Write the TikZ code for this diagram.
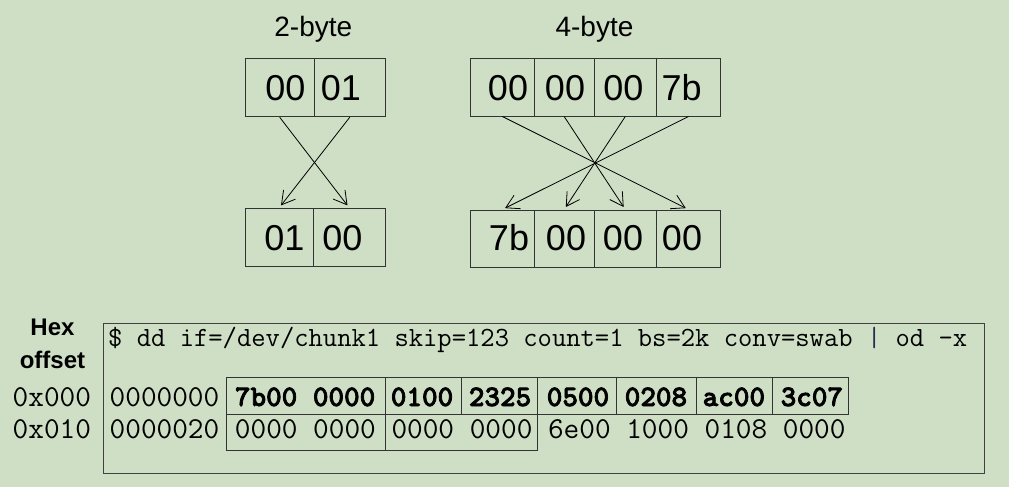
\documentclass[tikz,border=0pt]{standalone}
\usepackage{fontspec}
\setmainfont{Liberation Sans}
\newfontfamily\lmbold{lmmonolt10-bold.otf}[FakeBold=2.5]
\usetikzlibrary{arrows.meta}
\definecolor{bg}{HTML}{CFDFC5}
\definecolor{edge}{HTML}{333333}
\definecolor{dumpedge}{HTML}{404040}
\definecolor{pipecol}{HTML}{1F2F50}
\newcommand{\boldhex}[1]{{\lmbold\fontsize{29.7}{30}\selectfont #1}}
\begin{document}
\begin{tikzpicture}[x=1pt,y=-1pt,
  bytebox/.style={draw=edge, line width=1pt, inner sep=0pt},
  bytetxt/.style={font=\fontsize{36}{36}\selectfont, anchor=base, inner sep=0pt},
  titletxt/.style={font=\fontsize{28}{28}\selectfont, anchor=base, inner sep=0pt},
  swaparrow/.style={line width=0.8pt, -{Straight Barb[length=13pt,width=15pt]}, shorten >=3pt},
  monotxt/.style={font=\ttfamily\fontsize{30.4}{31}\selectfont, anchor=base west, inner sep=0pt},
  hextxt/.style={font=\bfseries\fontsize{24}{24}\selectfont, anchor=base, inner sep=0pt},
  dumpline/.style={draw=edge, line width=1pt}]
\fill[bg] (0,0) rectangle (1009,487);
\useasboundingbox (0,0) rectangle (1009,487);

% titles
\node[titletxt] (t2) at (313.3,37) {2-byte};
\node[titletxt] (t4) at (594.5,37) {4-byte};

% 2-byte boxes
\node[bytebox, minimum width=69.3pt, minimum height=57.7pt] (a1) at (279.65,87.85) {};
\node[bytebox, minimum width=71pt, minimum height=57.7pt] (a2) at (349.8,87.85) {};
\node[bytebox, minimum width=68.3pt, minimum height=57.7pt] (b1) at (279.15,237.15) {};
\node[bytebox, minimum width=72pt, minimum height=57.7pt] (b2) at (349.3,237.15) {};
\node[bytetxt] (a1t) at (285.3,100) {00};
\node[bytetxt] (a2t) at (341,100) {01};
\node[bytetxt] (b1t) at (284.5,250) {01};
\node[bytetxt] (b2t) at (342.5,250) {00};

% 4-byte boxes
\node[bytebox, minimum width=63.3pt, minimum height=57.3pt] (c1) at (502.35,87.35) {};
\node[bytebox, minimum width=60.3pt, minimum height=57.3pt] (c2) at (564.15,87.35) {};
\node[bytebox, minimum width=62pt, minimum height=57.3pt] (c3) at (625.3,87.35) {};
\node[bytebox, minimum width=64.4pt, minimum height=57.3pt] (c4) at (688.5,87.35) {};
\node[bytebox, minimum width=63.3pt, minimum height=57.3pt] (d1) at (502.35,238.65) {};
\node[bytebox, minimum width=60.3pt, minimum height=57.3pt] (d2) at (564.15,238.65) {};
\node[bytebox, minimum width=62pt, minimum height=57.3pt] (d3) at (625.3,238.65) {};
\node[bytebox, minimum width=64.4pt, minimum height=57.3pt] (d4) at (688.5,238.65) {};
\node[bytetxt] (c1t) at (508,100) {00};
\node[bytetxt] (c2t) at (565,100) {00};
\node[bytetxt] (c3t) at (623.3,100) {00};
\node[bytetxt] (c4t) at (681.7,100) {7b};
\node[bytetxt] (d1t) at (509,250) {7b};
\node[bytetxt] (d2t) at (566,250) {00};
\node[bytetxt] (d3t) at (623,250) {00};
\node[bytetxt] (d4t) at (682,250) {00};

% swap arrows
\draw[swaparrow] (a1.south) -- (b2.north);
\draw[swaparrow] (a2.south) -- (b1.north);
\draw[swaparrow] (c1.south) -- (d4.north);
\draw[swaparrow] (c2.south) -- (d3.north);
\draw[swaparrow] (c3.south) -- (d2.north);
\draw[swaparrow] (c4.south) -- (d1.north);

% hex offset labels
\node[hextxt] (hex1) at (52.5,335) {Hex};
\node[hextxt] (hex2) at (52.5,368) {offset};
\node[monotxt] (o1) at (12.5,406) {0x000};
\node[monotxt] (o2) at (12.5,438) {0x010};

% dump box
\draw[draw=dumpedge, line width=1pt] (103,323) rectangle (984,473);
\node[monotxt, font=\ttfamily\fontsize{27.8}{28}\selectfont] (cmd) at (108,346)
  {\$ dd if=/dev/chunk1 skip=123 count=1 bs=2k conv=swab {\color{pipecol}|} od -x};

% cells
\draw[dumpline] (226.7,377.7) rectangle (848.3,414.3);
\foreach \xx in {385.7,461.7,537.7,616.7,696.7,772.7}
  \draw[dumpline] (\xx,377.7) -- (\xx,414.3);
\draw[dumpline] (226.7,414.3) rectangle (537.7,450);
\draw[dumpline] (385.7,414.3) -- (385.7,450);

\node[monotxt] (r1) at (109.5,406) {0000000 \boldhex{7b00 0000 0100 2325 0500 0208 ac00 3c07}};
\node[monotxt] (r2) at (109.5,438) {0000020 0000 0000 0000 0000 6e00 1000 0108 0000};
\end{tikzpicture}
\end{document}
